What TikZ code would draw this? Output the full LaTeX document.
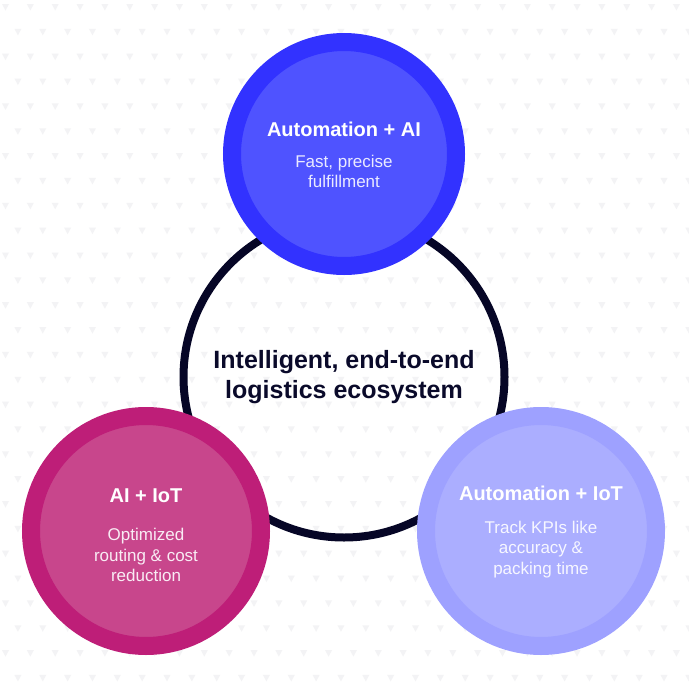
\documentclass[tikz,border=0pt]{standalone}
\usepackage{fontspec}
\setmainfont{Liberation Sans}
\usetikzlibrary{positioning}
\definecolor{inkc}{RGB}{10,10,42}
\definecolor{ringc}{RGB}{6,6,38}
\definecolor{dotc}{RGB}{243,243,245}
\definecolor{bluedraw}{RGB}{50,50,255}
\definecolor{bluefill}{RGB}{79,83,255}
\definecolor{magdraw}{RGB}{190,30,120}
\definecolor{magfill}{RGB}{200,70,140}
\definecolor{lavdraw}{RGB}{158,161,255}
\definecolor{lavfill}{RGB}{171,174,255}

\begin{document}
\begin{tikzpicture}[x=1pt, y=-1pt,
  hub/.style={circle, draw=ringc, line width=8pt, inner sep=0pt, minimum size=321pt, align=center, text=inkc, font=\fontsize{25}{30}\selectfont\bfseries},
  bubble/.style={circle, line width=18pt, inner sep=0pt},
  head/.style={text=white, font=\fontsize{20}{24}\selectfont\bfseries},
  sub/.style={align=center, font=\fontsize{17}{20.6}\selectfont},
]

\fill[white] (0,0) rectangle (688,688);
\useasboundingbox (0,0) rectangle (688,688);

% ============ dotted backdrop ============
\foreach \r in {0,...,27} {
  \foreach \c in {0,...,27} {
    \pgfmathsetmacro\xx{5.5+24.85*\c+12.42*mod(\r,2)}
    \pgfmathsetmacro\yy{7.5+24.85*\r}
    \fill[dotc] (\xx-3.5,\yy-3.5) -- (\xx+3.5,\yy-3.5) -- (\xx,\yy+3) -- cycle;
  }
}

% ============ hub ============
\node[hub] (hub) at (344,377) {Intelligent, end-to-end\\logistics ecosystem};

% ============ three bubbles ============
\node[bubble, minimum size=224pt, draw=bluedraw, fill=bluefill] (autoai) at (344,154) {};
\node[bubble, minimum size=230pt, draw=magdraw, fill=magfill] (aiiot) at (146,531) {};
\node[bubble, minimum size=230pt, draw=lavdraw, fill=lavfill] (autoiot) at (541,531) {};

\node[head] (autoaiH) at (344,129) {Automation + AI};
\node[sub, text=white!88!bluefill] (autoaiS) at (344,171.5) {Fast, precise\\fulfillment};

\node[head] (aiiotH) at (146,496) {AI + IoT};
\node[sub, text=white!90!magfill] (aiiotS) at (146,555) {Optimized\\routing \& cost\\reduction};

\node[head] (autoiotH) at (541,493) {Automation + IoT};
\node[sub, text=white!90!lavfill] (autoiotS) at (541,549.5) {Track KPIs like\\accuracy \&\\packing time};
\end{tikzpicture}
\end{document}
